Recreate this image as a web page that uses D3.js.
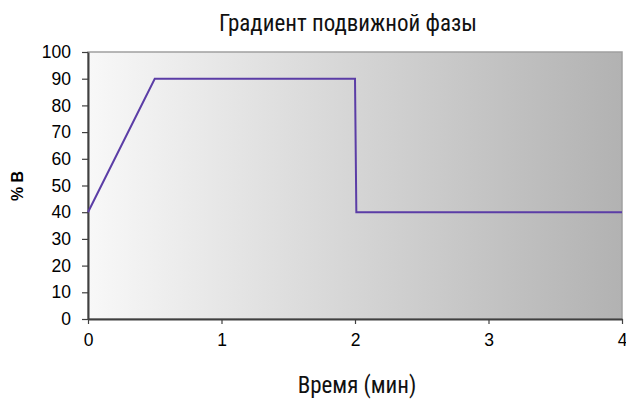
<!DOCTYPE html>
<html>
<head>
<meta charset="utf-8">
<script src="https://cdn.jsdelivr.net/npm/d3@7"></script>
<style>
  body { margin: 0; background: #fff; }
  text { font-family: "Liberation Sans", Arial, sans-serif; }
</style>
</head>
<body>
<svg id="drawing_region"></svg>
<script>
// gradient profile: time (min) vs % B
const times = [0, 0.5, 2, 2.01, 4];
const percentB = [40, 90, 90, 40, 40];
const xTicks = [0, 1, 2, 3, 4];
const yTicks = [0, 10, 20, 30, 40, 50, 60, 70, 80, 90, 100];

const titleText = "Градиент подвижной фазы";
const xLabel = "Время (мин)";
const yLabel = "% B";

const config = {
    width: 626,
    height: 400,
    margin: {top: 52, right: 4, bottom: 81, left: 88}
};

const data = times.map((t, i) => ({x: t, y: percentB[i]}));

const svg = d3.select('#drawing_region')
    .attr('width', config.width)
    .attr('height', config.height);

const inner_width = config.width - config.margin.left - config.margin.right;
const inner_height = config.height - config.margin.top - config.margin.bottom;

const chart = svg.append('g')
    .attr('transform', `translate(${config.margin.left}, ${config.margin.top})`);

const xscale = d3.scaleLinear().domain([0, 4]).range([0, inner_width]);
const yscale = d3.scaleLinear().domain([0, 100]).range([inner_height, 0]);

// background gradient (light left, grey right)
const defs = svg.append('defs');
const grad = defs.append('linearGradient')
    .attr('id', 'bg')
    .attr('x1', '0%').attr('x2', '100%')
    .attr('y1', '0%').attr('y2', '0%');
grad.append('stop').attr('offset', '0%').attr('stop-color', '#f8f8f8');
grad.append('stop').attr('offset', '100%').attr('stop-color', '#b2b2b2');

chart.append('rect')
    .attr('width', inner_width)
    .attr('height', inner_height)
    .attr('fill', 'url(#bg)')
    .attr('stroke', '#a0a0a0')
    .attr('stroke-width', 1.5);

// axes
const xaxis = d3.axisBottom(xscale).tickValues(xTicks).tickFormat(d3.format('d'))
    .tickSizeOuter(0).tickSizeInner(5).tickPadding(10);
const yaxis = d3.axisLeft(yscale).tickValues(yTicks)
    .tickSizeOuter(0).tickSizeInner(6).tickPadding(11);

const xg = chart.append('g')
    .attr('transform', `translate(0, ${inner_height})`)
    .call(xaxis);
const yg = chart.append('g').call(yaxis);

[xg, yg].forEach(g => {
    g.attr('font-size', null).attr('font-family', null);
    g.selectAll('path.domain').attr('stroke', '#404040').attr('stroke-width', 2);
    g.selectAll('.tick line').attr('stroke', '#404040').attr('stroke-width', 1.2);
    g.selectAll('.tick text')
        .attr('fill', '#000')
        .style('font-size', '17.5px')
        .style('font-family', '"Liberation Sans", Arial, sans-serif');
});

// line
const line = d3.line()
    .x(d => xscale(d.x))
    .y(d => yscale(d.y));

chart.append('path')
    .datum(data)
    .attr('d', line)
    .attr('fill', 'none')
    .attr('stroke', '#5b3da6')
    .attr('stroke-width', 2);

// title and labels
svg.append('text')
    .attr('x', 348)
    .attr('y', 31)
    .attr('text-anchor', 'middle')
    .style('font-family', '"Liberation Sans Narrow", "Roboto Condensed", Roboto, sans-serif')
    .style('font-size', '23px')
    .attr('fill', '#111')
    .text(titleText);

svg.append('text')
    .attr('x', 357)
    .attr('y', 393)
    .attr('text-anchor', 'middle')
    .style('font-family', '"Liberation Sans Narrow", "Roboto Condensed", Roboto, sans-serif')
    .style('font-size', '23px')
    .attr('fill', '#111')
    .text(xLabel);

svg.append('text')
    .attr('transform', 'translate(23, 186) rotate(-90)')
    .attr('text-anchor', 'middle')
    .style('font-size', '16px')
    .style('font-weight', 'bold')
    .attr('fill', '#000')
    .text(yLabel);
</script>
</body>
</html>
